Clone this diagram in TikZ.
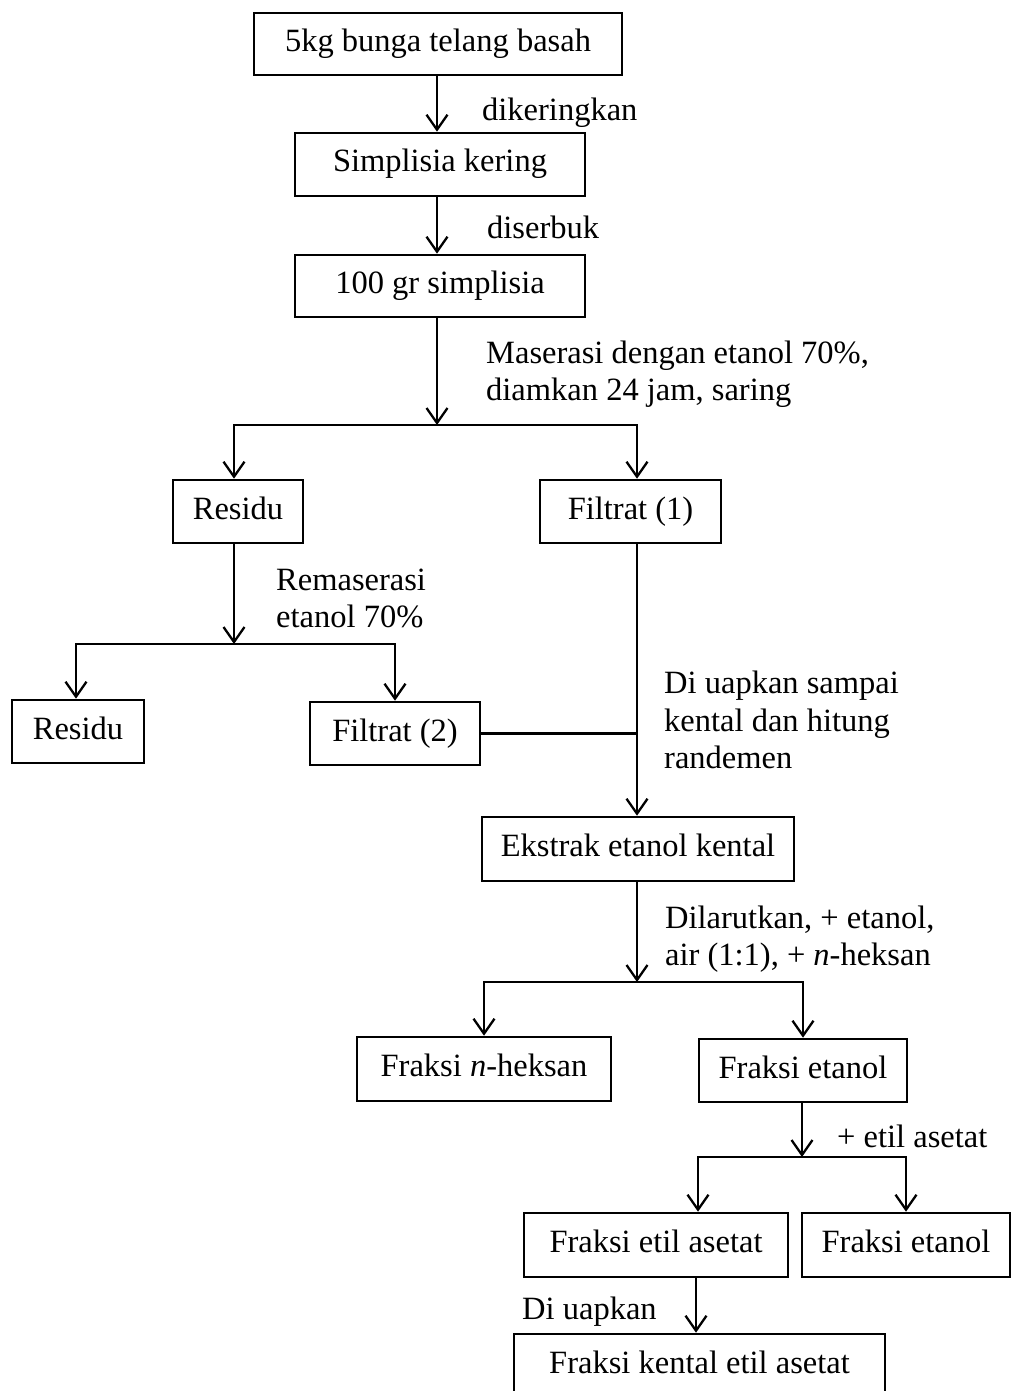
\documentclass[tikz,border=0pt]{standalone}
\usepackage{fontspec}
\setmainfont{Liberation Serif}
\usetikzlibrary{arrows.meta}
\begin{document}
\begin{tikzpicture}[x=1pt,y=-1pt,
  font=\fontsize{32.5}{37}\selectfont,
  box/.style={draw, line width=2.6pt, inner sep=0pt, text height=22pt, text depth=7pt},
  conn/.style={line width=2.3pt, line join=miter},
  arr/.style={conn, -{Straight Barb[length=15pt,width=21pt,line width=2.3pt]}},
  lbl/.style={anchor=base west, inner sep=0pt}]
\useasboundingbox (0,0) rectangle (1011,1391);

% process boxes
\node[box, minimum width=368pt, minimum height=62pt] (b1) at (438,44) {5kg bunga telang basah};
\node[box, minimum width=290pt, minimum height=63pt] (b2) at (440,164.5) {Simplisia kering};
\node[box, minimum width=290pt, minimum height=62pt] (b3) at (440,286) {100 gr simplisia};
\node[box, minimum width=130pt, minimum height=63pt] (residu1) at (238,511.5) {Residu};
\node[box, minimum width=181pt, minimum height=63pt] (filtrat1) at (630.5,511.5) {Filtrat (1)};
\node[box, minimum width=132pt, minimum height=63pt] (residu2) at (78,731.5) {Residu};
\node[box, minimum width=170pt, minimum height=63pt] (filtrat2) at (395,733.5) {Filtrat (2)};
\node[box, minimum width=312pt, minimum height=64pt] (ekstrak) at (638,849) {Ekstrak etanol kental};
\node[box, minimum width=254pt, minimum height=64pt] (nheksan) at (484,1069) {Fraksi \textit{n}-heksan};
\node[box, minimum width=208pt, minimum height=63pt] (etanol1) at (803,1070.5) {Fraksi etanol};
\node[box, minimum width=264pt, minimum height=64pt] (etil) at (656,1245) {Fraksi etil asetat};
\node[box, minimum width=208pt, minimum height=64pt] (etanol2) at (906,1245) {Fraksi etanol};
\node[box, minimum width=371pt, minimum height=64pt] (kental) at (699.5,1366) {Fraksi kental etil asetat};

% branch points and connector columns
\coordinate (j1) at (437,425);
\coordinate (j2) at (234,644);
\coordinate (j3) at (637,982);
\coordinate (j4) at (802,1157);
\coordinate (cC) at (76,0);
\coordinate (cG) at (698,0);
\coordinate (cK) at (696,0);

% connectors
\draw[arr] (b1.south -| j1) -- (b2.north -| j1);
\draw[arr] (b2.south -| j1) -- (b3.north -| j1);
\draw[arr] (b3.south -| j1) -- (j1);
\draw[arr] (j1) -| (residu1.north -| j2);
\draw[arr] (j1) -| (filtrat1.north -| j3);
\draw[arr] (residu1.south -| j2) -- (j2);
\draw[arr] (j2) -| (residu2.north -| cC);
\draw[arr] (j2) -| (filtrat2.north);
\draw[arr] (filtrat1.south -| j3) -- (ekstrak.north -| j3);
\draw[conn] (filtrat2.east) -- (filtrat2.east -| j3);
\draw[arr] (ekstrak.south -| j3) -- (j3);
\draw[arr] (j3) -| (nheksan.north);
\draw[arr] (j3) -| (etanol1.north);
\draw[arr] (etanol1.south -| j4) -- (j4);
\draw[arr] (j4) -| (etil.north -| cG);
\draw[arr] (j4) -| (etanol2.north);
\draw[arr] (etil.south -| cK) -- (kental.north -| cK);

% step labels
\node[lbl] (t1) at (482,121) {dikeringkan};
\node[lbl] (t2) at (487,238) {diserbuk};
\node[lbl] (t3a) at (486,363) {Maserasi dengan etanol 70\%,};
\node[lbl] (t3b) at (486,400) {diamkan 24 jam, saring};
\node[lbl] (t4a) at (276,590) {Remaserasi};
\node[lbl] (t4b) at (276,627) {etanol 70\%};
\node[lbl] (t5a) at (664,693) {Di uapkan sampai};
\node[lbl] (t5b) at (664,731) {kental dan hitung};
\node[lbl] (t5c) at (664,768) {randemen};
\node[lbl] (t6a) at (665,928) {Dilarutkan, + etanol,};
\node[lbl] (t6b) at (665,965) {air (1:1), + \textit{n}-heksan};
\node[lbl] (t7) at (837,1147) {+ etil asetat};
\node[lbl] (t8) at (522,1319) {Di uapkan};
\end{tikzpicture}
\end{document}
